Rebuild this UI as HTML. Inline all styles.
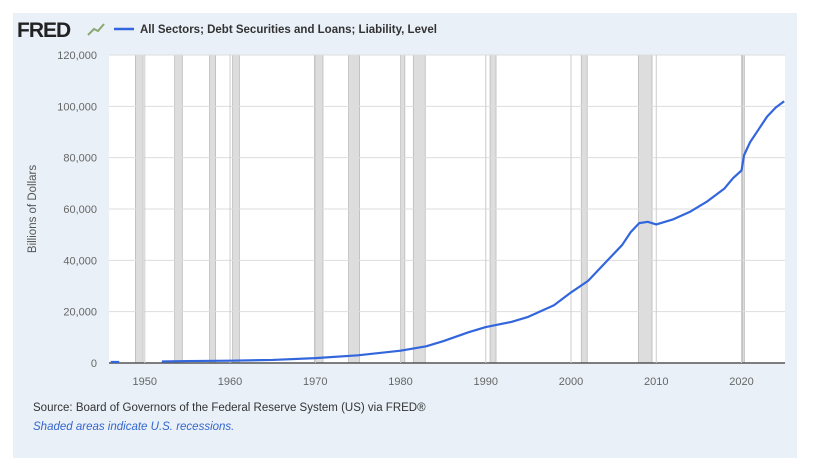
<!DOCTYPE html>
<html><head><meta charset="utf-8"><style>
body{margin:0;background:#fff;width:817px;height:476px;overflow:hidden;font-family:"Liberation Sans",sans-serif}
#panel{position:absolute;left:13px;top:13px;width:784px;height:445px;background:#e9f0f8}
</style></head><body>
<div id="panel"></div>
<svg id="c" width="817" height="476" style="position:absolute;left:0;top:0">
<text x="17" y="37" font-size="21" font-weight="bold" fill="#222" letter-spacing="-1">FRED</text>
<path d="M88 35 L94 29 L98 31 L104 24" stroke="#8aa870" stroke-width="2" fill="none"/>
<line x1="114" y1="29" x2="134" y2="29" stroke="#3366dd" stroke-width="2.5"/>
<text x="140" y="33" font-size="11.5" font-weight="bold" fill="#333">All Sectors; Debt Securities and Loans; Liability, Level</text>
<text transform="translate(36,209) rotate(-90)" text-anchor="middle" font-size="11.5" fill="#555">Billions of Dollars</text>
<text x="33" y="411" font-size="11.5" fill="#333">Source: Board of Governors of the Federal Reserve System (US) via FRED®</text>
<text x="33" y="430" font-size="11.5" font-style="italic" fill="#3366cc">Shaded areas indicate U.S. recessions.</text>
<g id="g"></g>
</svg>
<script>
const recessions=[[1948.9,1949.8],[1953.5,1954.4],[1957.6,1958.3],[1960.3,1961.1],[1969.9,1970.9],[1973.9,1975.2],[1980.0,1980.5],[1981.5,1982.9],[1990.5,1991.2],[2001.2,2001.9],[2007.9,2009.5],[2020.1,2020.3]];
const years=[1946,1947,1952,1955,1960,1965,1970,1975,1980,1983,1985,1988,1990,1993,1995,1998,2000,2002,2004,2006,2007,2008,2009,2010,2012,2014,2016,2018,2019,2020,2020.3,2021,2022,2023,2024,2025];
const values=[400,400,600,750,900,1200,1900,3000,4800,6500,8500,12000,14000,16000,18000,22500,27500,32000,39000,46000,51000,54500,55000,54000,56000,59000,63000,68000,72000,75000,81000,86000,91000,96000,99500,102000];
const yTicks=[0,20000,40000,60000,80000,100000,120000];
const xTicks=[1950,1960,1970,1980,1990,2000,2010,2020];
const L=109,R=785,T=55,B=363;
const x=v=>L+(v-1945.8)/(2025.1-1945.8)*(R-L);
const y=v=>B-v/120000*(B-T);
const g=document.getElementById('g');const NS='http://www.w3.org/2000/svg';
function mk(t,a){const e=document.createElementNS(NS,t);for(const k in a)e.setAttribute(k,a[k]);g.appendChild(e);return e;}
const bg=mk('rect',{x:L,y:T,width:R-L,height:B-T,fill:'#fff'});


recessions.forEach(r=>{const e=mk('rect',{x:x(r[0]),y:T,width:Math.max(2,x(r[1])-x(r[0])),height:B-T,fill:'#dddddd',stroke:'#bbb','stroke-width':0.8});

});
yTicks.forEach(v=>{const l=mk('line',{x1:L,x2:R,y1:y(v),y2:y(v),stroke:v?'#ddd':'#555','stroke-width':v?1:1.5});


const t=mk('text',{x:L-12,y:y(v)+4,'text-anchor':'end','font-size':11,fill:'#666'});t.textContent=v.toLocaleString('en-US');

});
xTicks.forEach(v=>{const l=mk('line',{x1:x(v),x2:x(v),y1:T,y2:B,stroke:'#ccc'});


const t=mk('text',{x:x(v),y:B+22,'text-anchor':'middle','font-size':11,fill:'#666'});t.textContent=v;

});
const seg1=years.slice(0,2).map((yr,i)=>x(yr)+','+y(values[i])).join(' ');
const seg2=years.slice(2).map((yr,i)=>x(yr)+','+y(values[i+2])).join(' ');
[seg1,seg2].forEach(p=>{const e=mk('polyline',{points:p,fill:'none',stroke:'#3366dd','stroke-width':2.2,'stroke-linejoin':'round'});

});
</script>
</body></html>
